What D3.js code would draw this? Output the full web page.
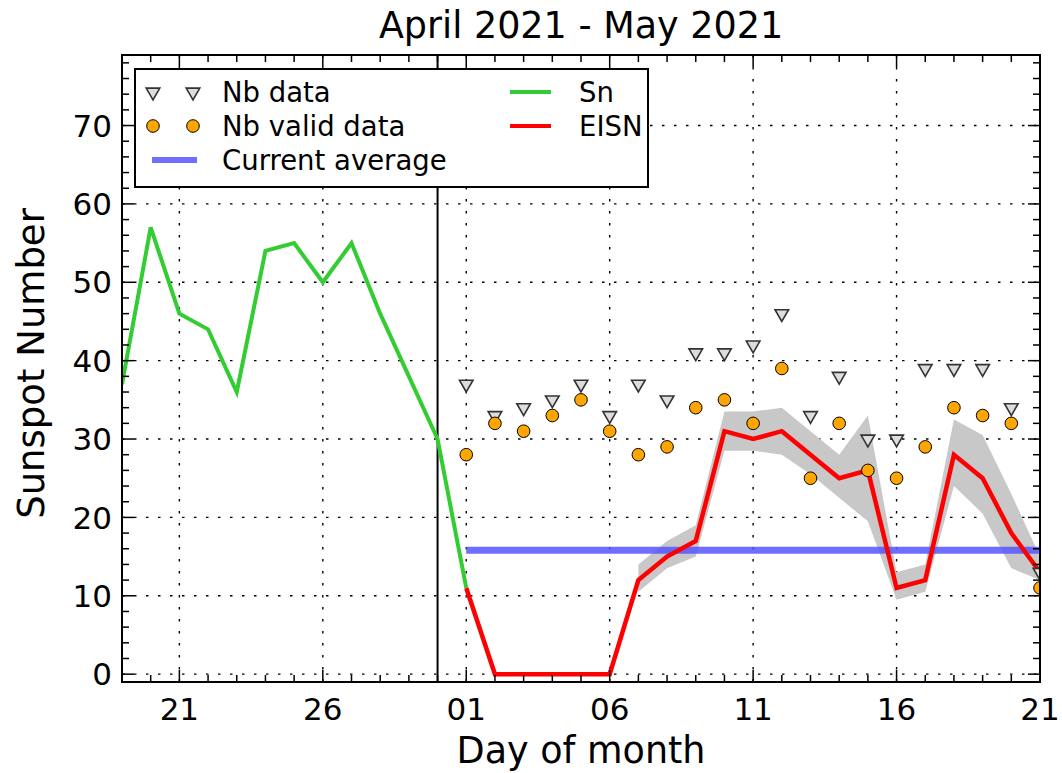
<!DOCTYPE html>
<html>
<head>
<meta charset="utf-8">
<script src="https://cdn.jsdelivr.net/npm/d3@7"></script>
<style>
  body { margin: 0; background: #fff; }
  text { font-family: "DejaVu Sans", sans-serif; fill: #000; }
</style>
</head>
<body>
<div id="chart"></div>
<script>
// Data
let snDays = ['2021-04-19', '2021-04-20', '2021-04-21', '2021-04-22', '2021-04-23', '2021-04-24', '2021-04-25',
              '2021-04-26', '2021-04-27', '2021-04-28', '2021-04-29', '2021-04-30', '2021-05-01'];
let snValues = [37, 57, 46, 44, 36, 54, 55, 50, 55, 46, 38, 30, 11];

let mayDays = d3.range(1, 22).map(d => `2021-05-${String(d).padStart(2, '0')}`);
let eisnValues = [11, 0, 0, 0, 0, 0, 12, 15, 17, 31, 30, 31, 28, 25, 26, 11, 12, 28, 25, 18, 13];
let nbData = [37, 33, 34, 35, 37, 33, 37, 35, 41, 41, 42, 46, 33, 38, 30, 30, 39, 39, 39, 34, 13];
let nbValid = [28, 32, 31, 33, 35, 31, 28, 29, 34, 35, 32, 39, 25, 32, 26, 25, 29, 34, 33, 32, 11];

// error band, from May 7 onwards
let bandDays = mayDays.slice(6);
let bandUpper = [14, 17, 19, 33.5, 33.5, 34, 31, 28, 33, 13, 14, 32.5, 30.5, 23, 15];
let bandLower = [10.5, 13.5, 15, 28.5, 28.5, 28, 25.5, 22.5, 19.5, 9.5, 10.5, 24, 20.5, 13.5, 12];

let currentAverage = 15.8;
let averageFrom = '2021-05-01', averageTo = '2021-05-21';
let markerDay = '2021-04-30';

let xTickDays = ['2021-04-21', '2021-04-26', '2021-05-01', '2021-05-06', '2021-05-11', '2021-05-16', '2021-05-21'];
let xTickLabels = ['21', '26', '01', '06', '11', '16', '21'];
let yTickValues = [0, 10, 20, 30, 40, 50, 60, 70];

let parseDay = d3.timeParse('%Y-%m-%d');

// Sizes
let svgWidth = 1062, svgHeight = 773;
let margin = { top: 55, right: 22, bottom: 91, left: 122 };
let width = svgWidth - margin.left - margin.right,
    height = svgHeight - margin.top - margin.bottom;

let svg = d3.select('#chart')
    .append('svg')
    .attr('width', svgWidth)
    .attr('height', svgHeight);

let g = svg.append('g')
    .attr('transform', `translate(${margin.left}, ${margin.top})`);

let x = d3.scaleTime()
    .domain([parseDay('2021-04-19'), parseDay('2021-05-21')])
    .range([0, width]);

let y = d3.scaleLinear()
    .domain([-1, 79])
    .range([height, 0]);

svg.append('defs').append('clipPath')
    .attr('id', 'plot-clip')
    .append('rect')
    .attr('width', width)
    .attr('height', height);

// Grid
let grid = g.append('g');
grid.selectAll('.gx')
    .data(xTickDays)
    .enter()
    .append('line')
    .attr('x1', d => x(parseDay(d))).attr('x2', d => x(parseDay(d)))
    .attr('y1', 0).attr('y2', height);
grid.selectAll('.gy')
    .data(yTickValues)
    .enter()
    .append('line')
    .attr('y1', d => y(d)).attr('y2', d => y(d))
    .attr('x1', 0).attr('x2', width);
grid.selectAll('line')
    .attr('stroke', '#000')
    .attr('stroke-width', 1.4)
    .attr('stroke-dasharray', '2.5,9.5');

let plot = g.append('g').attr('clip-path', 'url(#plot-clip)');

// Gray band
let bandArea = d3.area()
    .x((d, i) => x(parseDay(bandDays[i])))
    .y0((d, i) => y(bandLower[i]))
    .y1((d, i) => y(bandUpper[i]));
plot.append('path')
    .datum(bandUpper)
    .attr('d', bandArea)
    .attr('fill', '#c8c8c8');

// Current average
plot.append('line')
    .attr('x1', x(parseDay(averageFrom)))
    .attr('x2', x(parseDay(averageTo)) + 10)
    .attr('y1', y(currentAverage))
    .attr('y2', y(currentAverage))
    .attr('stroke', '#5555ff')
    .attr('stroke-opacity', 0.85)
    .attr('stroke-width', 7);

// Marker line
plot.append('line')
    .attr('x1', x(parseDay(markerDay)))
    .attr('x2', x(parseDay(markerDay)))
    .attr('y1', 0).attr('y2', height)
    .attr('stroke', '#000')
    .attr('stroke-width', 2);

let line = d3.line()
    .x(d => x(d.date))
    .y(d => y(d.value));

let snPoints = snDays.map((d, i) => ({ date: parseDay(d), value: snValues[i] }));
let eisnPoints = mayDays.map((d, i) => ({ date: parseDay(d), value: eisnValues[i] }));

plot.append('path')
    .datum(snPoints)
    .attr('d', line)
    .attr('fill', 'none')
    .attr('stroke', '#33cc33')
    .attr('stroke-width', 4);

plot.append('path')
    .datum(eisnPoints)
    .attr('d', line)
    .attr('fill', 'none')
    .attr('stroke', '#ff0000')
    .attr('stroke-width', 4.5);

// Markers
let triangle = d3.symbol().type(d3.symbolTriangle).size(80);

plot.selectAll('.nb')
    .data(nbData)
    .enter()
    .append('path')
    .attr('d', triangle)
    .attr('transform', (d, i) => `translate(${x(parseDay(mayDays[i]))}, ${y(d)}) rotate(180)`)
    .attr('fill', '#dddddd')
    .attr('stroke', '#333')
    .attr('stroke-width', 1.6);

plot.selectAll('.valid')
    .data(nbValid)
    .enter()
    .append('circle')
    .attr('cx', (d, i) => x(parseDay(mayDays[i])))
    .attr('cy', d => y(d))
    .attr('r', 6.3)
    .attr('fill', '#ffa500')
    .attr('stroke', '#000')
    .attr('stroke-width', 1);

// Ticks (inward, on all four sides)
let ticks = g.append('g').attr('stroke', '#000').attr('stroke-width', 1.5);
let dayTicks = d3.timeDay.range(parseDay('2021-04-19'), d3.timeDay.offset(parseDay('2021-05-21'), 1));
let majorX = new Set(xTickDays);
let fmt = d3.timeFormat('%Y-%m-%d');
dayTicks.forEach(d => {
    let len = majorX.has(fmt(d)) ? 12 : 7;
    let px = x(d);
    ticks.append('line').attr('x1', px).attr('x2', px).attr('y1', height).attr('y2', height - len);
    ticks.append('line').attr('x1', px).attr('x2', px).attr('y1', 0).attr('y2', len);
});
d3.range(0, 79, 2).forEach(v => {
    let len = v % 10 === 0 ? 12 : 7;
    ticks.append('line').attr('x1', 0).attr('x2', len).attr('y1', y(v)).attr('y2', y(v));
    ticks.append('line').attr('x1', width).attr('x2', width - len).attr('y1', y(v)).attr('y2', y(v));
});

// Frame
g.append('rect')
    .attr('width', width)
    .attr('height', height)
    .attr('fill', 'none')
    .attr('stroke', '#000')
    .attr('stroke-width', 2);

// Tick labels
g.selectAll('.xl')
    .data(xTickDays)
    .enter()
    .append('text')
    .attr('x', d => x(parseDay(d)))
    .attr('y', height + 38)
    .attr('text-anchor', 'middle')
    .style('font-size', '31px')
    .text((d, i) => xTickLabels[i]);

g.selectAll('.yl')
    .data(yTickValues)
    .enter()
    .append('text')
    .attr('x', -10)
    .attr('y', d => y(d))
    .attr('dy', '0.36em')
    .attr('text-anchor', 'end')
    .style('font-size', '31px')
    .text(d => d);

// Titles
svg.append('text')
    .attr('x', margin.left + width / 2)
    .attr('y', 38)
    .attr('text-anchor', 'middle')
    .style('font-size', '36.5px')
    .text('April 2021 - May 2021');

svg.append('text')
    .attr('x', margin.left + width / 2)
    .attr('y', 763)
    .attr('text-anchor', 'middle')
    .style('font-size', '36.5px')
    .text('Day of month');

svg.append('text')
    .attr('transform', `translate(44, ${margin.top + height / 2 - 5}) rotate(-90)`)
    .attr('text-anchor', 'middle')
    .style('font-size', '37px')
    .text('Sunspot Number');

// Legend
let legend = svg.append('g');
legend.append('rect')
    .attr('x', 135).attr('y', 69)
    .attr('width', 513).attr('height', 118)
    .attr('fill', '#fff')
    .attr('stroke', '#000')
    .attr('stroke-width', 2);

let rows = [92, 126, 160];
[153, 193].forEach(px => {
    legend.append('path')
        .attr('d', triangle)
        .attr('transform', `translate(${px}, ${rows[0]}) rotate(180)`)
        .attr('fill', '#dddddd').attr('stroke', '#333').attr('stroke-width', 1.6);
    legend.append('circle')
        .attr('cx', px).attr('cy', rows[1]).attr('r', 6.3)
        .attr('fill', '#ffa500').attr('stroke', '#000').attr('stroke-width', 1);
});
legend.append('line')
    .attr('x1', 152).attr('x2', 197).attr('y1', rows[2]).attr('y2', rows[2])
    .attr('stroke', '#5555ff').attr('stroke-opacity', 0.85).attr('stroke-width', 6);
legend.append('line')
    .attr('x1', 510).attr('x2', 551).attr('y1', rows[0]).attr('y2', rows[0])
    .attr('stroke', '#33cc33').attr('stroke-width', 4);
legend.append('line')
    .attr('x1', 510).attr('x2', 551).attr('y1', rows[1]).attr('y2', rows[1])
    .attr('stroke', '#ff0000').attr('stroke-width', 4);

let labels = [
    { x: 222, y: rows[0], t: 'Nb data' },
    { x: 222, y: rows[1], t: 'Nb valid data' },
    { x: 222, y: rows[2], t: 'Current average' },
    { x: 579, y: rows[0], t: 'Sn' },
    { x: 579, y: rows[1], t: 'EISN' }
];
legend.selectAll('.lt')
    .data(labels)
    .enter()
    .append('text')
    .attr('x', d => d.x)
    .attr('y', d => d.y)
    .attr('dy', '0.36em')
    .style('font-size', '27.5px')
    .text(d => d.t);
</script>
</body>
</html>
